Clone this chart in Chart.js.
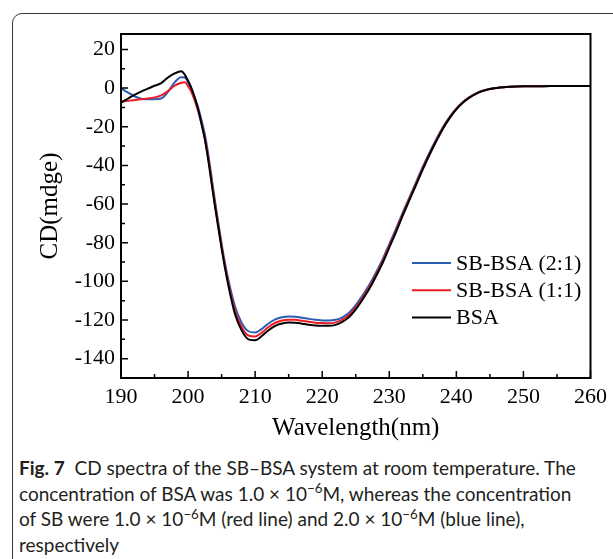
<!DOCTYPE html>
<html>
<head>
<meta charset="utf-8">
<script src="https://cdn.jsdelivr.net/npm/chart.js@4.4.1/dist/chart.umd.min.js"></script>
<style>
  html, body { margin: 0; padding: 0; background: #fff; }
  body { width: 613px; height: 559px; position: relative; overflow: hidden; }
  #frame { position: absolute; left: 12px; top: 13px; width: 700px; height: 700px;
           border: 1.5px solid #3a3a3a; border-radius: 10px 0 0 0; }
  #wrap { position: absolute; left: 0; top: 0; width: 613px; height: 450px; }
  #caption { position: absolute; left: 19px; top: 455px; font-family: Lato, sans-serif;
             font-size: 19px; line-height: 25.7px; color: #231f20; white-space: nowrap; }
  #caption b { font-weight: 700; }
  #caption sup { font-size: 0.7em; line-height: 0; vertical-align: baseline; position: relative; top: -0.55em; }
</style>
</head>
<body>
<div id="frame"></div>
<div id="wrap"><canvas id="chart" width="613" height="450"></canvas></div>
<div id="caption"><b>Fig. 7</b>&nbsp; CD spectra of the SB–BSA system at room temperature. The<br>concentration of BSA was 1.0 × 10<sup>−6</sup>M, whereas the concentration<br>of SB were 1.0 × 10<sup>−6</sup>M (red line) and 2.0 × 10<sup>−6</sup>M (blue line),<br>respectively</div>
<script>
// wavelength (nm)
const wavelengths = [190, 191, 192, 193, 194, 195, 196, 197, 198, 199, 199.5,
  200, 200.5, 201, 201.5, 202, 202.5, 203, 203.5, 204, 204.5, 205, 205.5, 206, 206.5, 207,
  208, 209, 210, 211, 212, 213, 214, 215, 216, 217, 218, 219, 220, 221, 222, 223, 224, 225,
  226, 227, 228, 229, 230, 231, 232, 233, 234, 235, 236, 237, 238, 239, 240, 241, 242, 243,
  244, 245, 246, 247, 248, 250, 253, 256, 260];

// CD (mdeg)
const sbBsa21 = [0, -2.2, -4.2, -5.5, -5.8, -5.8, -5.4, -2, 3, 5.6, 5.5,
  3, -0.5, -5, -10, -16.5, -24, -34, -46, -58, -69.5, -80.5, -90.5, -99, -106.5, -113,
  -121.5, -125.8, -126.5, -124.6, -121.8, -119.7, -118.6, -118.2, -118.3, -118.8, -119.4, -119.9, -120.2, -120.3, -119.9, -118.6, -116.2, -112.3,
  -107.4, -101.9, -95.5, -88.6, -80.7, -72.8, -64.4, -56.5, -48.6, -40.7, -33.3, -26.5, -20.1, -14.8, -10.5, -7.1, -4.5, -2.6,
  -1.3, -0.4, 0.1, 0.5, 0.7, 0.9, 1.0, 1.1, 1.1];

const sbBsa11 = [-7, -6.6, -6.2, -5.8, -5.4, -4.8, -3.8, -1.5, 1.3, 2.8, 3,
  1, -2, -6.5, -12, -18.5, -26, -36, -48, -60, -71, -82, -92, -100.8, -108.5, -115.3,
  -123.7, -128, -128.5, -126.5, -123.6, -121.4, -120.2, -119.8, -119.9, -120.4, -120.9, -121.4, -121.6, -121.7, -121.2, -119.8, -117.4, -113.5,
  -108.6, -103.1, -96.7, -89.7, -81.7, -73.7, -65.3, -57.3, -49.4, -41.4, -34, -27.1, -20.6, -15.2, -10.8, -7.3, -4.7, -2.7,
  -1.4, -0.5, 0.1, 0.5, 0.7, 0.9, 1.0, 1.1, 1.1];

const bsa = [-7.5, -5.5, -3.5, -1.8, -0.3, 1.2, 2.6, 5.5, 7.6, 8.7, 7,
  3.8, 0, -5, -11, -18.5, -26.5, -37, -49, -61, -72, -83, -93, -102, -110, -117,
  -125.5, -130, -130.5, -128.3, -125.3, -123, -121.8, -121.3, -121.4, -121.9, -122.4, -122.8, -123, -123, -122.5, -121, -118.5, -114.5,
  -109.5, -104, -97.5, -90.5, -82.5, -74.5, -66, -58, -50, -42, -34.5, -27.5, -21, -15.5, -11, -7.5, -4.8, -2.8,
  -1.4, -0.5, 0.1, 0.5, 0.7, 0.9, 1.0, 1.1, 1.1];

const xTicks = [190, 200, 210, 220, 230, 240, 250, 260];
const yTicks = [20, 0, -20, -40, -60, -80, -100, -120, -140];

const serif = 'Liberation Serif, Times New Roman, serif';

function toPoints(values) {
  return wavelengths.map((w, i) => ({ x: w, y: values[i] }));
}

// box round the plot plus inward tick marks
const frameTicks = {
  id: 'frameTicks',
  afterDatasetsDraw(chart) {
    const { ctx, chartArea: a, scales: { x, y } } = chart;
    ctx.save();
    ctx.strokeStyle = '#000';
    ctx.lineWidth = 1.5;
    ctx.beginPath();
    for (let v = 190; v <= 260; v += 5) {
      const px = x.getPixelForValue(v);
      const len = v % 10 === 0 ? 7 : 4;
      ctx.moveTo(px, a.bottom);
      ctx.lineTo(px, a.bottom - len);
    }
    for (let v = -140; v <= 20; v += 10) {
      const py = y.getPixelForValue(v);
      const len = v % 20 === 0 ? 7 : 4;
      ctx.moveTo(a.left, py);
      ctx.lineTo(a.left + len, py);
    }
    ctx.stroke();
    ctx.lineWidth = 2;
    ctx.strokeRect(a.left, a.top, a.right - a.left, a.bottom - a.top);
    ctx.restore();
  }
};

// legend inside the plot, top to bottom
const insideLegend = {
  id: 'insideLegend',
  afterDraw(chart) {
    const { ctx } = chart;
    const rows = [0, 1, 2];
    ctx.save();
    ctx.font = '22px ' + serif;
    ctx.textBaseline = 'middle';
    ctx.fillStyle = '#000';
    rows.forEach((idx, r) => {
      const ds = chart.data.datasets[idx];
      const yy = 263 + r * 27.3;
      ctx.strokeStyle = ds.borderColor;
      ctx.lineWidth = 2;
      ctx.beginPath();
      ctx.moveTo(412, yy);
      ctx.lineTo(451, yy);
      ctx.stroke();
      ctx.fillText(ds.label, 456, yy + 1);
    });
    ctx.restore();
  }
};

new Chart(document.getElementById('chart'), {
  type: 'line',
  data: {
    datasets: [
      { label: 'SB-BSA (2:1)', data: toPoints(sbBsa21), borderColor: '#2a5cb4', order: 2 },
      { label: 'SB-BSA (1:1)', data: toPoints(sbBsa11), borderColor: '#ec1c24', order: 1 },
      { label: 'BSA', data: toPoints(bsa), borderColor: '#000000', order: 0 }
    ]
  },
  options: {
    responsive: false,
    animation: false,
    layout: { padding: { left: 0, right: 20, top: 34, bottom: 0 } },
    elements: {
      point: { radius: 0 },
      line: { borderWidth: 2, cubicInterpolationMode: 'monotone', fill: false }
    },
    plugins: {
      legend: { display: false },
      tooltip: { enabled: false }
    },
    scales: {
      x: {
        type: 'linear',
        min: 190,
        max: 260,
        afterBuildTicks: (scale) => { scale.ticks = xTicks.map((v) => ({ value: v })); },
        afterFit: (scale) => { scale.height = 72; },
        grid: { display: false, drawTicks: false },
        border: { display: false },
        ticks: { font: { family: serif, size: 22 }, color: '#000', padding: 6, maxRotation: 0 },
        title: { display: true, text: 'Wavelength(nm)', font: { family: serif, size: 25 }, color: '#000', padding: { top: 0, bottom: 7 } }
      },
      y: {
        type: 'linear',
        min: -150,
        max: 28,
        afterBuildTicks: (scale) => { scale.ticks = yTicks.map((v) => ({ value: v })); },
        afterFit: (scale) => { scale.width = 121; },
        grid: { display: false, drawTicks: false },
        border: { display: false },
        ticks: { font: { family: serif, size: 22 }, color: '#000', padding: 6 },
        title: { display: true, text: 'CD(mdge)', font: { family: serif, size: 25 }, color: '#000', padding: { top: 35, bottom: 0 } }
      }
    }
  },
  plugins: [frameTicks, insideLegend]
});
</script>
</body>
</html>
